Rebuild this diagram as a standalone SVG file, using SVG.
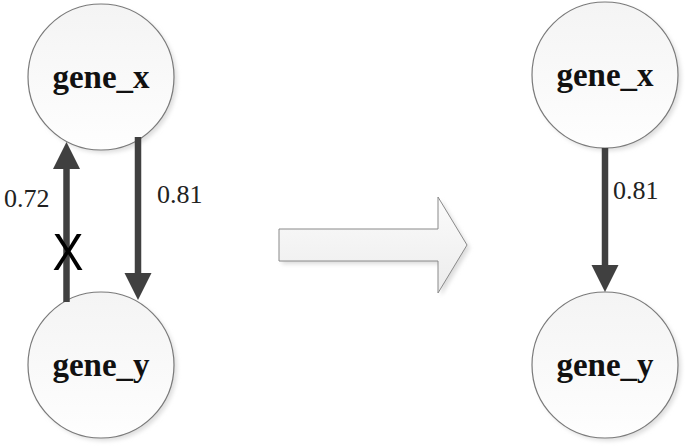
<svg xmlns="http://www.w3.org/2000/svg" width="685" height="446" viewBox="0 0 685 446">
<style>
.node circle{fill:url(#g);stroke:#7a7a7a;stroke-width:1.2}
.lbl{font-family:"Liberation Serif","Times New Roman",serif;font-weight:bold;font-size:33px;fill:#111;text-anchor:middle}
.num{font-family:"Liberation Serif","Times New Roman",serif;font-size:26px;fill:#222}
.edge{stroke:#404040;stroke-width:6.5;fill:none}
.head{fill:#404040}
</style>
<defs>
<linearGradient id="g" x1="0" y1="0" x2="0" y2="1">
<stop offset="0" stop-color="#f4f4f4"/>
<stop offset="1" stop-color="#fefefe"/>
</linearGradient>
<linearGradient id="ga" x1="0" y1="0" x2="0" y2="1">
<stop offset="0" stop-color="#fbfbfb"/>
<stop offset="1" stop-color="#ececec"/>
</linearGradient>
<filter id="blur" x="-20%" y="-20%" width="140%" height="140%"><feGaussianBlur stdDeviation="2"/></filter>
</defs>
<rect width="685" height="446" fill="#ffffff"/>

<g id="gene_x_left" class="node">
<circle cx="104" cy="80" r="73" style="fill:#dedede;stroke:none" filter="url(#blur)"/>
<circle cx="101" cy="77" r="73"/>
<text class="lbl" x="101" y="88">gene_x</text>
</g>
<g id="gene_y_left" class="node">
<circle cx="104" cy="368" r="73" style="fill:#dedede;stroke:none" filter="url(#blur)"/>
<circle cx="101" cy="365" r="73"/>
<text class="lbl" x="101" y="376">gene_y</text>
</g>
<g id="gene_x_right" class="node">
<circle cx="608" cy="78" r="73" style="fill:#dedede;stroke:none" filter="url(#blur)"/>
<circle cx="605" cy="75" r="73"/>
<text class="lbl" x="605" y="86">gene_x</text>
</g>
<g id="gene_y_right" class="node">
<circle cx="608" cy="368" r="73" style="fill:#dedede;stroke:none" filter="url(#blur)"/>
<circle cx="605" cy="365" r="73"/>
<text class="lbl" x="605" y="376">gene_y</text>
</g>

<g id="transition_arrow">
<polygon points="282,232 441,232 441,200 470,248 441,296 441,264 282,264" fill="#dcdcdc" filter="url(#blur)"/>
<polygon points="279,229 438,229 438,197 467,245 438,293 438,261 279,261" fill="url(#ga)" stroke="#8a8a8a" stroke-width="1"/>
</g>

<g id="connectors">
<line class="edge" x1="66.5" y1="302" x2="66.5" y2="166"/>
<polygon class="head" points="66.5,142 53,169 80,169"/>
<line class="edge" x1="138" y1="137" x2="138" y2="276"/>
<polygon class="head" points="138,300 124.5,273 151.5,273"/>
<line class="edge" x1="605" y1="148" x2="605" y2="268"/>
<polygon class="head" points="605,292 591.5,265 618.5,265"/>
<text class="num" x="4" y="207">0.72</text>
<text class="num" x="157" y="203">0.81</text>
<text class="num" x="613" y="199">0.81</text>
<text x="68" y="270" font-family="Liberation Sans, Arial, sans-serif" font-size="51" text-anchor="middle" textLength="31" lengthAdjust="spacingAndGlyphs" fill="#000">X</text>
</g>
</svg>
